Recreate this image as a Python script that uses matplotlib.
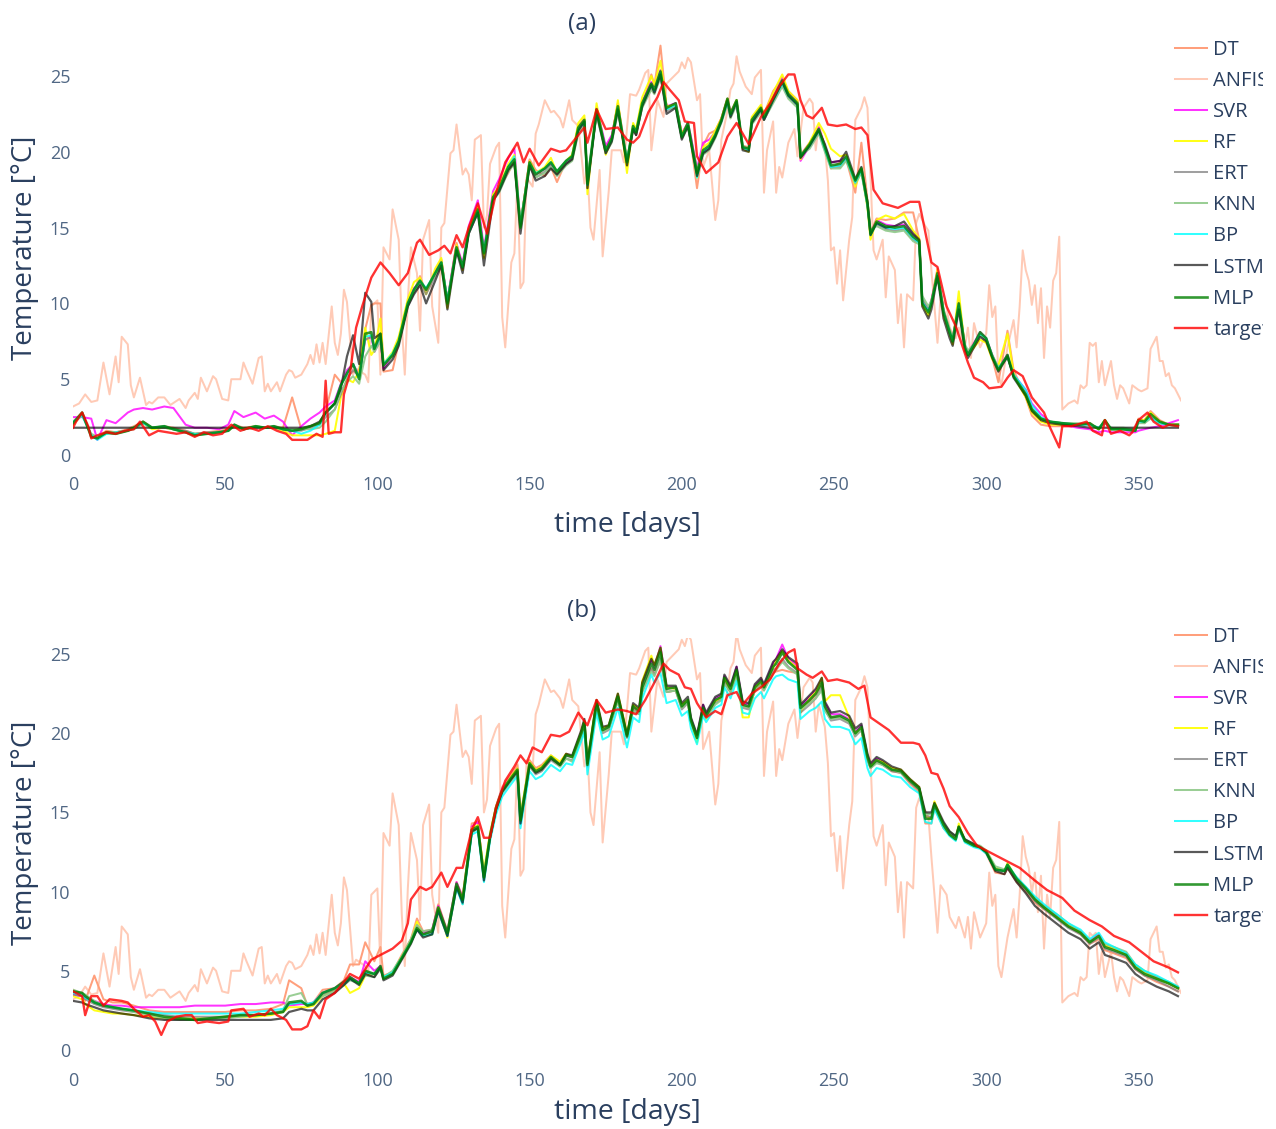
import matplotlib
matplotlib.use("Agg")
import matplotlib.pyplot as plt
from matplotlib.patches import Rectangle

plt.rcParams['font.family'] = ['Open Sans', 'DejaVu Sans']

W, H = 1276, 1129
labels = ["DT", "ANFIS", "SVR", "RF", "ERT", "KNN", "BP", "LSTM", "MLP", "target"]

# ---------- ANFIS (same run shown in both panels) ----------
anfis_days = [0, 2, 4, 6, 8, 10, 12, 14, 15, 16,
              18, 19, 20, 22, 24, 25, 26, 28, 30, 32,
              35, 37, 38, 40, 41, 42, 44, 46, 47, 49,
              51, 52, 55, 56, 57, 59, 61, 62, 63, 64,
              65, 67, 68, 70, 71, 72, 73, 75, 77, 78,
              79, 80, 81, 82, 83, 85, 86, 87, 88, 89,
              90, 92, 93, 96, 97, 98, 100, 101, 102, 103,
              104, 105, 107, 108, 109, 110, 111, 113, 114, 115,
              117, 118, 120, 121, 122, 124, 125, 126, 128, 129,
              130, 131, 132, 134, 135, 136, 137, 139, 140, 141,
              142, 144, 145, 146, 147, 148, 149, 151, 152, 153,
              155, 157, 158, 160, 161, 163, 164, 166, 168, 169,
              170, 171, 173, 174, 176, 177, 179, 180, 181, 183,
              185, 186, 188, 189, 190, 192, 194, 195, 197, 199,
              200, 201, 202, 203, 205, 206, 207, 209, 211, 212,
              213, 215, 216, 217, 218, 219, 221, 223, 224, 226,
              227, 228, 230, 231, 232, 233, 235, 237, 238, 240,
              242, 243, 244, 245, 247, 248, 249, 250, 251, 252,
              253, 255, 256, 257, 259, 260, 261, 262, 263, 264,
              266, 267, 268, 270, 271, 272, 273, 274, 276, 277,
              278, 280, 281, 282, 284, 285, 287, 288, 290, 291,
              293, 294, 295, 296, 298, 300, 301, 302, 303, 304,
              305, 307, 309, 310, 311, 312, 313, 314, 315, 316,
              317, 318, 319, 320, 321, 322, 323, 324, 325, 327,
              329, 330, 331, 332, 333, 334, 335, 336, 337, 338,
              339, 341, 342, 343, 344, 345, 347, 348, 350, 351,
              353, 354, 356, 357, 358, 359, 360, 361, 362, 364]
anfis = [3.2, 3.4, 4.0, 3.5, 3.6, 6.1, 4.0, 6.5, 4.8, 7.8,
         7.3, 4.6, 3.8, 5.1, 3.3, 3.5, 3.4, 3.8, 3.8, 3.3,
         3.7, 3.1, 3.6, 4.1, 3.7, 5.1, 4.2, 5.2, 5.0, 3.7,
         3.6, 5.0, 5.0, 6.1, 5.6, 4.7, 6.4, 6.5, 4.2, 4.7,
         4.2, 4.8, 4.2, 5.3, 5.6, 5.5, 5.1, 5.3, 6.0, 6.6,
         6.0, 7.3, 6.1, 7.4, 6.0, 9.8, 7.4, 6.6, 8.0, 10.9,
         10.1, 5.3, 5.7, 5.3, 4.8, 9.8, 10.2, 5.3, 13.7, 13.3,
         12.9, 16.2, 14.2, 8.6, 5.3, 10.2, 13.7, 12.0, 8.2, 14.2,
         15.5, 9.8, 7.4, 15.0, 15.3, 19.9, 20.1, 21.8, 18.5, 18.9,
         18.5, 16.8, 20.8, 21.1, 15.0, 15.8, 19.2, 20.3, 20.6, 9.1,
         7.1, 12.7, 13.3, 18.1, 11.0, 11.4, 18.3, 17.7, 21.2, 21.8,
         23.4, 22.6, 22.7, 22.2, 21.6, 23.4, 22.1, 21.7, 17.9, 18.8,
         15.0, 14.2, 18.8, 13.1, 17.4, 20.1, 20.1, 20.1, 19.3, 23.8,
         23.7, 24.1, 25.2, 25.4, 20.1, 23.4, 22.3, 24.5, 24.9, 25.3,
         25.9, 25.5, 26.2, 25.9, 23.4, 23.8, 19.0, 20.1, 15.5, 16.8,
         20.8, 22.7, 24.1, 24.5, 26.3, 25.3, 24.3, 23.8, 24.9, 25.4,
         17.3, 20.1, 22.0, 17.3, 19.0, 18.3, 20.6, 21.5, 19.7, 22.9,
         23.5, 23.2, 20.1, 21.8, 20.4, 18.1, 13.5, 13.7, 11.3, 13.5,
         10.2, 14.2, 15.7, 22.1, 22.9, 23.6, 22.9, 18.3, 13.5, 12.9,
         14.2, 10.4, 13.1, 12.2, 8.7, 10.6, 7.1, 10.6, 10.2, 15.3,
         15.9, 15.1, 14.8, 12.2, 7.4, 10.4, 9.8, 8.4, 7.7, 8.4,
         7.1, 8.4, 6.4, 8.7, 7.1, 8.0, 11.2, 9.1, 9.8, 5.3,
         4.6, 7.1, 8.9, 7.1, 9.8, 13.5, 12.2, 11.5, 9.9, 11.2,
         8.7, 11.0, 6.4, 9.8, 8.4, 11.5, 12.0, 14.4, 3.0, 3.4,
         3.6, 3.4, 4.6, 4.4, 4.6, 7.4, 7.2, 7.4, 4.8, 6.2,
         4.6, 6.2, 4.6, 3.7, 4.6, 4.4, 3.4, 4.6, 4.3, 4.2,
         4.4, 7.0, 7.8, 6.2, 6.2, 5.2, 5.4, 4.6, 4.4, 3.6]

# ---------- panel (a) ----------
target_a_days = [0, 1, 3, 5, 6, 8, 11, 14, 17, 20,
                 22, 25, 28, 31, 34, 37, 40, 43, 46, 49,
                 52, 55, 58, 61, 64, 67, 70, 72, 74, 77,
                 80, 82, 83, 84, 86, 88, 89, 91, 93, 95,
                 98, 101, 104, 107, 110, 113, 114, 117, 120, 122,
                 124, 126, 128, 130, 133, 136, 139, 142, 146, 148,
                 150, 153, 157, 160, 162, 164, 168, 169, 172, 175,
                 179, 182, 184, 186, 189, 192, 194, 196, 199, 201,
                 204, 205, 208, 212, 215, 218, 222, 226, 229, 232,
                 235, 237, 239, 241, 243, 246, 248, 251, 254, 257,
                 259, 261, 263, 266, 271, 275, 278, 282, 284, 287,
                 290, 294, 296, 299, 301, 305, 307, 309, 312, 315,
                 319, 321, 324, 325, 328, 333, 335, 338, 339, 341,
                 344, 347, 348, 350, 353, 355, 358, 360, 363]
target_a = [1.8, 2.2, 2.8, 1.9, 1.1, 1.3, 1.5, 1.4, 1.6, 1.7,
            2.2, 1.3, 1.6, 1.5, 1.4, 1.5, 1.2, 1.5, 1.3, 1.4,
            2.0, 1.6, 1.8, 1.6, 1.9, 1.6, 1.4, 1.0, 1.0, 1.0,
            1.4, 1.2, 4.9, 1.4, 1.5, 1.5, 4.0, 5.4, 8.4, 9.8,
            11.7, 12.7, 12.0, 11.2, 12.0, 14.0, 14.2, 13.2, 13.5, 13.8,
            13.3, 14.5, 13.7, 15.0, 16.6, 14.6, 17.3, 19.3, 20.6, 19.3,
            20.2, 19.1, 20.2, 20.0, 20.1, 20.6, 21.6, 20.6, 22.8, 21.5,
            21.6, 20.8, 20.6, 21.0, 22.6, 23.6, 24.6, 24.1, 23.4, 22.0,
            21.9, 19.7, 18.6, 19.3, 21.0, 21.9, 20.5, 22.3, 23.2, 24.3,
            25.1, 25.1, 23.4, 22.4, 22.2, 22.9, 21.8, 21.7, 21.8, 21.5,
            21.6, 21.1, 17.5, 16.6, 16.3, 16.7, 16.7, 12.7, 12.4, 9.8,
            8.5, 6.1, 5.1, 4.8, 4.4, 4.5, 5.1, 5.6, 5.2, 3.8,
            2.8, 1.8, 0.5, 1.9, 1.9, 2.2, 1.6, 1.3, 2.3, 1.4,
            1.6, 1.3, 1.5, 2.3, 2.8, 2.2, 1.8, 2.0, 1.9]

days_a = [0, 3, 6, 8, 11, 14, 18, 20, 23, 26,
          30, 33, 37, 40, 44, 48, 51, 53, 56, 60,
          63, 66, 69, 72, 75, 78, 81, 83, 86, 88,
          90, 92, 94, 96, 98, 99, 101, 102, 105, 107,
          110, 112, 114, 116, 119, 121, 123, 126, 128, 130,
          133, 135, 138, 140, 143, 145, 147, 150, 152, 155,
          157, 159, 162, 164, 166, 168, 169, 172, 175, 177,
          179, 182, 184, 185, 187, 190, 191, 193, 195, 198,
          200, 202, 203, 205, 207, 209, 211, 213, 215, 216,
          218, 220, 222, 223, 226, 227, 230, 233, 235, 238,
          239, 242, 245, 247, 249, 252, 254, 257, 259, 261,
          262, 264, 267, 270, 273, 276, 278, 279, 281, 282,
          284, 286, 288, 289, 291, 293, 294, 296, 298, 300,
          302, 304, 307, 309, 311, 313, 315, 318, 321, 325,
          330, 334, 337, 339, 341, 345, 349, 350, 352, 354,
          357, 360, 363]

dt_a = [2.2, 2.8, 1.3, 1.2, 1.6, 1.5, 1.7, 1.9, 2.2, 1.8,
        1.9, 1.8, 1.6, 1.4, 1.5, 1.6, 1.7, 2.0, 1.8, 1.9,
        1.8, 1.9, 1.8, 3.8, 1.7, 1.9, 2.1, 2.9, 5.3, 4.8,
        5.2, 5.5, 5.6, 8.3, 9.9, 10.0, 10.0, 5.5, 5.6, 7.4,
        10.1, 10.8, 11.8, 10.7, 12.1, 12.9, 10.2, 14.0, 12.2, 14.9,
        16.4, 13.1, 17.2, 17.6, 18.6, 19.4, 15.1, 19.5, 18.8, 18.4,
        19.0, 18.0, 19.4, 19.8, 21.7, 22.2, 17.8, 22.6, 20.2, 21.0,
        23.2, 19.5, 21.6, 21.1, 23.0, 25.1, 24.4, 27.0, 22.9, 23.2,
        21.2, 21.9, 20.6, 17.6, 20.4, 21.2, 21.4, 22.2, 23.5, 22.6,
        23.4, 20.4, 20.3, 22.2, 23.0, 22.5, 24.0, 24.8, 24.0, 23.4,
        19.8, 20.6, 21.6, 20.2, 18.9, 19.3, 19.5, 17.3, 20.6, 16.8,
        14.7, 15.6, 15.5, 15.6, 16.0, 16.0, 14.2, 10.2, 9.6, 10.2,
        12.3, 9.6, 8.3, 7.6, 10.2, 7.2, 6.6, 7.3, 8.0, 7.6,
        6.4, 4.8, 8.2, 5.6, 4.7, 3.8, 2.6, 2.0, 1.9, 1.9,
        2.0, 2.1, 1.7, 2.3, 1.7, 1.7, 1.6, 2.4, 2.3, 2.9,
        2.3, 2.0, 2.0]
svr_a = [2.5, 2.5, 2.4, 1.0, 2.3, 2.1, 2.8, 3.0, 3.1, 3.0,
         3.2, 3.1, 2.0, 1.8, 1.8, 1.7, 2.0, 2.9, 2.5, 2.8,
         2.4, 2.6, 2.2, 1.3, 1.9, 2.4, 2.8, 3.2, 3.6, 4.7,
         5.6, 6.0, 5.2, 7.6, 7.8, 6.8, 7.6, 5.7, 6.6, 7.6,
         10.1, 11.0, 11.4, 10.8, 12.1, 12.8, 10.2, 13.9, 12.6, 15.1,
         16.8, 13.6, 17.4, 18.2, 19.6, 20.2, 15.2, 19.4, 18.5, 18.9,
         19.2, 18.7, 19.3, 19.6, 21.5, 22.0, 17.6, 22.9, 20.4, 21.1,
         23.1, 19.1, 21.6, 21.2, 23.3, 24.6, 24.3, 25.4, 23.0, 23.2,
         21.2, 21.9, 21.0, 18.9, 20.6, 20.8, 21.3, 22.2, 23.5, 22.6,
         23.3, 20.3, 20.2, 22.1, 23.0, 22.4, 23.7, 24.9, 23.9, 23.3,
         19.4, 20.4, 21.6, 20.4, 19.3, 19.4, 19.7, 18.0, 18.8, 16.5,
         14.5, 15.5, 15.2, 15.1, 15.2, 14.5, 14.2, 10.1, 9.6, 10.2,
         12.1, 9.5, 8.1, 7.6, 10.0, 7.2, 6.7, 7.4, 8.1, 7.7,
         6.6, 5.7, 6.6, 5.3, 4.8, 4.3, 3.4, 2.7, 2.2, 2.0,
         1.8, 1.7, 1.5, 1.6, 1.5, 1.5, 1.5, 1.6, 1.7, 1.8,
         1.9, 2.1, 2.3]
rf_a = [2.0, 2.7, 1.3, 1.2, 1.5, 1.5, 1.6, 1.8, 2.1, 1.7,
        1.8, 1.7, 1.5, 1.4, 1.4, 1.5, 1.6, 1.9, 1.7, 1.9,
        1.8, 1.8, 1.6, 1.3, 1.3, 1.3, 1.3, 1.4, 1.6, 3.8,
        5.0, 4.8, 5.5, 8.4, 6.6, 6.9, 9.0, 6.0, 6.8, 7.8,
        10.3, 11.4, 11.7, 10.6, 12.3, 13.0, 9.7, 13.9, 12.2, 14.9,
        16.4, 13.0, 17.2, 17.7, 19.2, 19.8, 15.2, 19.4, 18.6, 19.0,
        19.6, 18.6, 19.4, 19.8, 21.9, 22.4, 17.2, 23.2, 19.8, 20.8,
        23.4, 18.6, 21.9, 21.5, 23.6, 25.0, 24.4, 26.0, 23.0, 23.1,
        21.2, 21.8, 20.6, 18.3, 20.3, 20.6, 21.4, 22.2, 23.5, 22.5,
        23.4, 20.2, 20.0, 22.3, 23.1, 22.4, 23.9, 25.1, 24.0, 23.4,
        19.5, 20.6, 21.9, 21.2, 20.2, 19.7, 19.8, 17.7, 18.8, 16.3,
        14.2, 15.5, 15.8, 15.6, 15.9, 14.8, 14.3, 9.9, 9.2, 10.0,
        12.2, 9.2, 8.0, 7.3, 10.8, 7.0, 6.6, 7.1, 7.6, 7.4,
        6.3, 5.9, 8.0, 5.4, 4.5, 3.8, 2.8, 2.2, 2.0, 2.0,
        2.0, 2.0, 1.7, 2.3, 1.7, 1.7, 1.6, 2.3, 2.3, 2.8,
        2.2, 2.0, 2.0]
ert_a = [2.0, 2.7, 1.3, 1.2, 1.5, 1.5, 1.6, 1.8, 2.1, 1.8,
         1.8, 1.7, 1.6, 1.4, 1.5, 1.5, 1.6, 1.9, 1.7, 1.8,
         1.8, 1.8, 1.7, 1.6, 1.6, 1.8, 2.0, 2.5, 3.0, 4.0,
         5.0, 5.6, 5.2, 7.6, 7.8, 7.0, 7.8, 6.0, 6.6, 7.4,
         9.8, 10.7, 11.3, 10.6, 11.8, 12.5, 10.1, 13.5, 12.3, 14.6,
         16.0, 13.4, 16.8, 17.4, 18.8, 19.3, 15.2, 19.1, 18.3, 18.7,
         19.1, 18.5, 19.2, 19.5, 21.3, 21.9, 18.1, 22.5, 20.0, 20.7,
         22.7, 19.4, 21.5, 21.1, 23.0, 24.2, 23.9, 25.0, 22.7, 23.0,
         20.9, 21.7, 20.6, 18.7, 19.9, 20.2, 21.0, 22.0, 23.3, 22.3,
         23.2, 20.2, 20.1, 21.9, 22.7, 22.1, 23.3, 24.4, 23.6, 23.0,
         19.6, 20.3, 21.3, 20.1, 19.0, 19.0, 19.5, 18.0, 18.7, 16.5,
         14.7, 15.2, 14.9, 14.8, 14.9, 14.2, 14.0, 10.3, 9.6, 10.1,
         11.8, 9.5, 8.2, 7.7, 9.8, 7.2, 6.8, 7.3, 8.0, 7.6,
         6.5, 5.7, 6.5, 5.2, 4.6, 4.0, 3.0, 2.4, 2.2, 2.1,
         2.0, 2.0, 1.8, 2.2, 1.8, 1.7, 1.7, 2.2, 2.1, 2.5,
         2.1, 2.0, 1.9]
knn_a = [2.1, 2.6, 1.4, 1.2, 1.4, 1.4, 1.6, 1.7, 2.1, 1.8,
         1.8, 1.7, 1.5, 1.3, 1.4, 1.5, 1.6, 1.9, 1.7, 1.8,
         1.8, 1.8, 1.7, 1.7, 1.7, 1.7, 1.8, 2.2, 3.0, 4.2,
         4.8, 5.2, 4.7, 6.5, 7.2, 6.8, 7.5, 6.0, 6.5, 7.3,
         9.9, 10.8, 11.4, 11.0, 11.9, 12.6, 10.3, 13.4, 12.5, 14.6,
         16.0, 13.5, 16.8, 17.3, 18.7, 19.2, 15.4, 19.0, 18.3, 18.6,
         19.0, 18.4, 19.1, 19.4, 21.2, 21.8, 18.3, 22.4, 19.9, 20.6,
         22.6, 19.5, 21.4, 21.2, 22.9, 24.1, 23.8, 24.9, 22.8, 22.9,
         20.9, 21.6, 20.7, 18.9, 19.8, 20.1, 20.9, 21.9, 23.1, 22.2,
         23.1, 20.4, 20.2, 21.8, 22.6, 22.1, 23.2, 24.3, 23.5, 22.9,
         19.8, 20.2, 21.2, 20.0, 18.9, 18.9, 19.4, 17.9, 18.6, 16.4,
         14.8, 15.1, 14.8, 14.7, 14.8, 14.1, 13.9, 10.5, 9.8, 10.2,
         11.7, 9.6, 8.3, 7.8, 9.6, 7.3, 6.9, 7.3, 7.9, 7.6,
         6.6, 5.8, 6.4, 5.3, 4.7, 4.1, 3.1, 2.4, 2.2, 2.1,
         2.1, 2.0, 1.8, 2.1, 1.8, 1.8, 1.7, 2.1, 2.1, 2.4,
         2.1, 2.0, 1.9]
bp_a = [2.2, 2.6, 1.3, 1.0, 1.4, 1.5, 1.6, 1.8, 2.1, 1.8,
        1.9, 1.7, 1.5, 1.4, 1.4, 1.5, 1.6, 2.0, 1.7, 1.9,
        1.8, 1.9, 1.7, 1.6, 1.4, 1.6, 2.0, 2.7, 3.4, 4.6,
        5.3, 6.0, 5.1, 7.8, 7.9, 7.0, 7.8, 6.0, 6.7, 7.5,
        10.0, 10.9, 11.5, 11.0, 12.0, 12.7, 10.2, 13.6, 12.4, 14.7,
        16.1, 13.4, 16.9, 17.5, 19.0, 19.7, 15.1, 19.2, 18.6, 18.9,
        19.3, 18.7, 19.4, 19.7, 21.5, 22.0, 17.8, 22.7, 20.1, 20.8,
        22.9, 19.4, 21.6, 21.3, 23.1, 24.4, 24.0, 25.2, 22.8, 23.1,
        21.0, 21.8, 20.7, 18.3, 20.0, 20.3, 21.1, 22.0, 23.3, 22.4,
        23.3, 20.3, 20.1, 22.0, 22.8, 22.2, 23.4, 24.5, 23.7, 23.1,
        19.7, 20.4, 21.4, 20.2, 19.0, 19.1, 19.6, 18.0, 18.8, 16.5,
        14.5, 15.3, 15.0, 14.9, 15.0, 14.3, 14.0, 10.1, 9.5, 10.0,
        11.9, 9.4, 8.1, 7.5, 9.9, 7.1, 6.6, 7.3, 8.0, 7.7,
        6.5, 5.7, 6.5, 5.3, 4.8, 4.3, 3.3, 2.5, 2.2, 2.1,
        2.0, 2.0, 1.8, 2.2, 1.7, 1.7, 1.6, 2.2, 2.2, 2.5,
        2.1, 2.0, 1.9]
lstm_a = [1.8, 1.8, 1.8, 1.8, 1.8, 1.8, 1.8, 1.8, 1.8, 1.8,
          1.8, 1.8, 1.8, 1.8, 1.8, 1.8, 1.8, 1.8, 1.8, 1.8,
          1.8, 1.8, 1.8, 1.8, 1.8, 1.9, 2.2, 2.8, 3.4, 4.4,
          6.5, 7.9, 6.0, 10.7, 10.1, 7.7, 8.0, 5.6, 6.3, 7.2,
          9.8, 10.6, 11.2, 10.0, 11.5, 12.5, 9.6, 13.5, 12.0, 14.6,
          16.0, 12.5, 16.8, 17.4, 18.8, 19.3, 14.6, 19.1, 18.1, 18.4,
          18.9, 18.5, 19.2, 19.5, 21.4, 22.0, 17.6, 22.6, 19.9, 20.7,
          22.8, 19.1, 21.5, 21.1, 23.0, 24.4, 23.9, 25.1, 22.5, 22.9,
          20.8, 21.7, 20.6, 18.4, 19.9, 20.2, 21.0, 22.0, 23.4, 22.3,
          23.3, 20.1, 20.0, 21.9, 22.8, 22.1, 23.4, 24.6, 23.7, 23.1,
          19.6, 20.4, 21.4, 20.5, 19.3, 19.4, 20.0, 18.2, 19.0, 16.7,
          14.5, 15.3, 15.0, 15.1, 15.4, 14.6, 14.2, 9.8, 9.0, 9.6,
          11.8, 9.0, 7.7, 7.2, 9.6, 6.9, 6.4, 7.1, 7.8, 7.5,
          6.4, 5.5, 6.5, 5.1, 4.5, 3.9, 2.9, 2.3, 2.1, 2.0,
          1.9, 1.8, 1.8, 1.8, 1.8, 1.8, 1.8, 1.8, 1.8, 1.8,
          1.8, 1.8, 1.8]
mlp_a = [2.1, 2.8, 1.2, 1.1, 1.5, 1.4, 1.6, 1.8, 2.2, 1.8,
         1.9, 1.7, 1.5, 1.3, 1.4, 1.5, 1.6, 2.0, 1.7, 1.9,
         1.8, 1.9, 1.7, 1.6, 1.7, 1.9, 2.1, 2.8, 3.4, 4.6,
         5.4, 6.0, 5.0, 8.0, 8.1, 7.0, 8.0, 5.9, 6.6, 7.5,
         10.0, 10.9, 11.5, 10.9, 12.0, 12.7, 10.0, 13.7, 12.4, 14.8,
         16.2, 13.3, 17.0, 17.6, 19.0, 19.5, 15.0, 19.3, 18.5, 18.9,
         19.3, 18.7, 19.4, 19.7, 21.6, 22.1, 17.9, 22.8, 20.1, 20.9,
         23.0, 19.3, 21.7, 21.3, 23.2, 24.5, 24.1, 25.3, 22.9, 23.2,
         21.0, 21.9, 20.8, 18.6, 20.1, 20.4, 21.1, 22.1, 23.5, 22.5,
         23.4, 20.3, 20.2, 22.1, 22.9, 22.3, 23.5, 24.7, 23.8, 23.2,
         19.7, 20.5, 21.5, 20.3, 19.1, 19.2, 19.7, 18.1, 18.9, 16.6,
         14.6, 15.4, 15.1, 15.0, 15.1, 14.4, 14.1, 10.0, 9.4, 10.0,
         12.0, 9.4, 8.1, 7.5, 10.0, 7.1, 6.6, 7.3, 8.1, 7.7,
         6.5, 5.6, 6.6, 5.2, 4.6, 4.0, 3.0, 2.4, 2.2, 2.1,
         2.0, 2.1, 1.7, 2.3, 1.7, 1.7, 1.6, 2.3, 2.2, 2.7,
         2.2, 2.0, 2.0]

# ---------- panel (b) ----------
target_b_days = [0, 3, 4, 6, 8, 10, 12, 16, 18, 20,
                 23, 25, 27, 29, 31, 34, 37, 39, 41, 44,
                 48, 51, 52, 56, 58, 61, 63, 65, 67, 70,
                 72, 75, 77, 79, 81, 83, 86, 89, 91, 94,
                 98, 102, 105, 108, 110, 111, 114, 116, 118, 121,
                 123, 126, 128, 131, 133, 135, 137, 139, 142, 145,
                 147, 149, 151, 154, 157, 160, 163, 166, 169, 172,
                 175, 179, 182, 185, 188, 191, 194, 196, 199, 201,
                 203, 205, 208, 211, 213, 215, 218, 220, 223, 226,
                 229, 232, 235, 237, 238, 241, 243, 246, 248, 251,
                 255, 258, 260, 262, 265, 268, 272, 276, 278, 280,
                 282, 284, 286, 288, 291, 294, 297, 301, 304, 307,
                 311, 316, 320, 325, 329, 334, 338, 342, 347, 351,
                 355, 360, 363]
target_b = [3.7, 3.4, 2.2, 3.4, 3.4, 2.8, 3.2, 3.1, 3.0, 2.6,
            2.1, 2.2, 1.8, 0.95, 1.8, 2.1, 2.2, 2.2, 1.7, 1.8,
            1.7, 1.8, 2.5, 2.6, 2.1, 2.3, 2.2, 2.6, 2.2, 1.9,
            1.3, 1.3, 1.5, 2.5, 2.0, 3.2, 3.6, 4.3, 4.8, 4.5,
            5.7, 6.1, 6.4, 6.9, 8.0, 9.5, 10.3, 10.1, 10.3, 11.2,
            10.3, 11.5, 11.5, 13.9, 14.7, 13.4, 13.4, 15.3, 17.0, 17.9,
            18.6, 18.1, 19.1, 18.8, 19.9, 19.8, 20.1, 21.3, 20.5, 22.1,
            21.3, 21.5, 21.4, 21.2, 22.1, 23.2, 24.4, 24.0, 23.7, 22.9,
            22.8, 21.9, 21.0, 21.4, 21.2, 22.4, 22.6, 21.8, 22.5, 22.9,
            23.4, 24.4, 25.1, 25.3, 24.1, 23.7, 23.5, 23.9, 23.3, 23.4,
            23.2, 22.8, 23.0, 21.0, 20.6, 20.2, 19.4, 19.4, 19.3, 18.6,
            17.5, 17.4, 16.5, 15.4, 14.7, 13.7, 12.9, 12.5, 12.2, 11.9,
            11.5, 10.7, 10.1, 9.6, 8.8, 8.2, 7.8, 7.2, 6.8, 6.2,
            5.6, 5.2, 4.9]

days_b = [0, 3, 4, 7, 10, 13, 16, 20, 25, 30,
          35, 40, 45, 50, 55, 60, 65, 69, 71, 75,
          77, 79, 82, 86, 89, 91, 94, 96, 99, 101,
          102, 105, 108, 111, 113, 115, 118, 120, 123, 126,
          128, 130, 131, 133, 135, 137, 139, 141, 144, 146,
          147, 150, 152, 154, 157, 160, 162, 164, 167, 168,
          169, 172, 174, 176, 179, 182, 184, 186, 187, 190,
          191, 193, 195, 198, 200, 202, 203, 205, 207, 208,
          211, 213, 214, 216, 218, 220, 222, 224, 226, 227,
          230, 231, 233, 235, 238, 239, 242, 244, 246, 247,
          249, 252, 255, 257, 259, 261, 262, 264, 266, 269,
          272, 275, 278, 280, 282, 283, 286, 288, 290, 291,
          293, 296, 298, 300, 303, 306, 307, 310, 313, 316,
          319, 323, 327, 331, 334, 337, 339, 342, 346, 349,
          352, 356, 360, 363]

dt_b = [3.8, 3.5, 3.1, 4.7, 3.2, 3.0, 3.0, 2.8, 2.5, 2.4,
        2.4, 2.4, 2.4, 2.4, 2.5, 2.5, 2.6, 2.9, 4.4, 3.9,
        2.8, 3.0, 3.8, 3.9, 4.4, 5.4, 5.4, 6.8, 5.6, 6.5,
        4.7, 4.9, 6.0, 7.0, 8.3, 7.5, 7.6, 9.2, 7.5, 10.6,
        9.7, 12.6, 14.3, 14.4, 11.0, 13.6, 15.4, 16.6, 17.4, 18.0,
        14.7, 18.3, 17.8, 18.0, 18.6, 18.1, 18.7, 18.5, 20.0, 20.6,
        18.0, 21.8, 20.1, 20.3, 22.2, 19.9, 21.6, 21.3, 22.6, 24.1,
        23.7, 24.6, 22.6, 22.7, 21.6, 22.0, 20.8, 19.8, 21.5, 21.1,
        22.0, 22.2, 23.3, 22.6, 23.7, 21.7, 21.6, 22.7, 23.1, 22.8,
        23.8, 23.9, 24.0, 23.9, 23.8, 21.6, 22.0, 22.4, 23.1, 21.7,
        21.0, 21.0, 20.7, 19.9, 20.2, 18.3, 17.8, 18.2, 18.0, 17.6,
        17.5, 16.8, 16.3, 14.3, 14.3, 15.3, 14.0, 13.6, 13.3, 13.9,
        13.2, 12.9, 12.8, 12.4, 11.2, 11.1, 11.5, 10.6, 10.0, 9.3,
        8.9, 8.4, 7.8, 7.3, 6.7, 7.0, 6.3, 6.1, 5.8, 5.1,
        4.7, 4.3, 4.0, 3.7]
svr_b = [3.5, 3.4, 3.3, 3.1, 2.9, 2.8, 2.8, 2.7, 2.7, 2.7,
         2.7, 2.8, 2.8, 2.8, 2.9, 2.9, 3.0, 3.0, 2.8, 2.9,
         2.9, 3.0, 3.6, 3.9, 4.3, 4.6, 4.3, 5.6, 5.0, 5.3,
         4.6, 4.8, 5.8, 6.9, 7.9, 7.4, 7.6, 9.1, 7.4, 10.6,
         9.6, 12.5, 14.1, 14.4, 10.9, 13.6, 15.4, 16.5, 17.3, 17.8,
         14.4, 18.2, 17.7, 17.9, 18.5, 18.0, 18.6, 18.5, 20.1, 20.8,
         17.9, 22.0, 20.3, 20.4, 22.4, 19.8, 21.7, 21.5, 23.1, 24.6,
         24.1, 25.5, 22.9, 22.9, 21.8, 22.1, 20.9, 19.8, 21.8, 21.2,
         22.2, 22.4, 23.6, 22.9, 24.2, 21.9, 21.8, 23.0, 23.4, 23.0,
         24.4, 24.7, 25.6, 24.7, 24.2, 21.7, 22.3, 22.7, 23.4, 21.9,
         21.2, 21.2, 20.9, 20.1, 20.5, 18.6, 18.0, 18.4, 18.2, 17.8,
         17.6, 17.0, 16.5, 14.7, 14.7, 15.5, 14.3, 13.6, 13.3, 14.0,
         13.2, 12.9, 12.8, 12.5, 11.4, 11.3, 11.6, 10.8, 10.2, 9.6,
         9.1, 8.5, 7.9, 7.5, 6.9, 7.3, 6.6, 6.4, 6.0, 5.3,
         4.9, 4.6, 4.2, 3.9]
rf_b = [3.4, 3.2, 2.9, 2.5, 2.4, 2.3, 2.3, 2.2, 2.1, 2.0,
        2.0, 2.0, 2.0, 2.1, 2.1, 2.1, 2.2, 2.4, 2.7, 2.7,
        2.7, 2.8, 3.4, 3.8, 4.2, 3.6, 3.9, 4.7, 4.8, 5.2,
        4.6, 4.9, 5.9, 6.9, 8.1, 7.2, 7.3, 9.0, 7.1, 10.3,
        9.6, 12.5, 14.0, 14.2, 11.3, 13.7, 15.4, 16.4, 17.3, 17.8,
        14.8, 18.2, 17.7, 17.9, 18.6, 18.2, 18.7, 18.5, 20.1, 20.8,
        18.3, 22.1, 20.3, 20.5, 22.5, 20.0, 21.8, 21.5, 23.3, 24.9,
        24.3, 25.4, 22.9, 22.8, 21.8, 22.1, 20.7, 19.4, 21.5, 20.9,
        22.0, 22.3, 23.5, 22.7, 23.9, 21.0, 21.0, 22.9, 23.2, 22.8,
        24.1, 24.6, 25.2, 24.6, 24.1, 21.3, 22.2, 22.6, 23.5, 22.0,
        22.4, 22.4, 21.0, 20.0, 20.3, 18.4, 17.9, 18.3, 18.2, 17.8,
        17.7, 17.1, 16.6, 14.8, 14.6, 15.7, 14.2, 13.6, 13.3, 14.3,
        13.2, 12.9, 12.8, 12.6, 11.5, 11.3, 11.8, 10.8, 10.2, 9.6,
        9.0, 8.4, 7.9, 7.4, 6.8, 7.2, 6.6, 6.4, 6.0, 5.3,
        4.9, 4.5, 4.2, 3.9]
ert_b = [3.5, 3.4, 3.2, 2.9, 2.7, 2.6, 2.5, 2.4, 2.3, 2.2,
         2.1, 2.1, 2.1, 2.1, 2.2, 2.2, 2.3, 2.4, 2.9, 3.0,
         2.8, 2.9, 3.5, 3.8, 4.2, 4.5, 4.2, 4.9, 4.8, 5.2,
         4.5, 4.8, 5.8, 6.8, 7.6, 7.3, 7.4, 8.9, 7.3, 10.4,
         9.4, 12.3, 13.8, 14.0, 10.9, 13.4, 15.2, 16.3, 17.1, 17.5,
         14.5, 17.9, 17.4, 17.6, 18.3, 17.9, 18.4, 18.3, 19.8, 20.5,
         17.9, 21.7, 20.0, 20.2, 22.1, 19.7, 21.5, 21.2, 22.7, 24.1,
         23.7, 24.7, 22.6, 22.7, 21.5, 21.9, 20.7, 19.7, 21.5, 21.0,
         21.9, 22.1, 23.2, 22.6, 23.7, 21.6, 21.5, 22.7, 23.1, 22.7,
         24.0, 24.1, 24.7, 24.2, 23.8, 21.3, 21.8, 22.2, 22.9, 21.5,
         20.8, 20.9, 20.6, 19.8, 20.2, 18.3, 17.8, 18.2, 18.0, 17.6,
         17.5, 16.9, 16.4, 14.8, 14.7, 15.4, 14.2, 13.7, 13.4, 14.0,
         13.2, 12.9, 12.8, 12.5, 11.4, 11.3, 11.6, 10.7, 10.1, 9.4,
         8.9, 8.3, 7.7, 7.3, 6.7, 7.1, 6.4, 6.2, 5.9, 5.1,
         4.7, 4.4, 4.0, 3.7]
knn_b = [3.8, 3.6, 3.5, 3.1, 2.8, 2.7, 2.6, 2.4, 2.2, 2.0,
         1.9, 1.9, 2.0, 2.0, 2.1, 2.2, 2.3, 2.5, 3.4, 3.6,
         2.9, 3.0, 3.4, 3.7, 4.1, 4.4, 4.2, 4.7, 4.6, 5.1,
         4.6, 5.0, 5.9, 7.0, 7.9, 7.5, 7.6, 8.7, 7.2, 10.3,
         9.2, 12.2, 13.7, 14.0, 11.1, 13.4, 15.1, 16.2, 17.0, 17.4,
         14.7, 17.9, 17.5, 17.7, 18.4, 17.9, 18.4, 18.2, 19.7, 20.3,
         18.2, 21.6, 20.1, 20.3, 22.0, 19.9, 21.4, 21.2, 22.6, 23.9,
         23.6, 24.6, 22.6, 22.7, 21.6, 22.0, 20.9, 19.9, 21.4, 21.0,
         21.8, 22.1, 23.1, 22.6, 23.6, 21.7, 21.6, 22.7, 23.0, 22.7,
         23.8, 24.0, 24.5, 24.1, 23.7, 21.5, 21.9, 22.2, 22.7, 21.4,
         20.9, 21.0, 20.7, 19.9, 20.2, 18.4, 17.8, 18.1, 18.0, 17.7,
         17.5, 17.0, 16.5, 14.9, 14.9, 15.3, 14.3, 13.8, 13.5, 13.9,
         13.3, 13.0, 12.9, 12.6, 11.6, 11.4, 11.5, 10.9, 10.3, 9.6,
         9.1, 8.6, 8.0, 7.5, 6.9, 7.1, 6.7, 6.5, 6.2, 5.4,
         5.0, 4.6, 4.3, 4.0]
bp_b = [3.6, 3.5, 3.3, 3.0, 2.8, 2.7, 2.6, 2.5, 2.4, 2.3,
        2.3, 2.3, 2.3, 2.3, 2.3, 2.4, 2.5, 2.6, 2.9, 3.0,
        2.9, 3.0, 3.6, 3.9, 4.2, 4.5, 4.2, 4.9, 4.8, 5.2,
        4.6, 4.9, 5.8, 6.8, 7.6, 7.2, 7.3, 8.8, 7.2, 10.2,
        9.2, 12.1, 13.6, 13.8, 10.6, 13.2, 14.9, 16.0, 16.8, 17.3,
        14.0, 17.6, 17.1, 17.3, 18.0, 17.6, 18.1, 18.0, 19.5, 20.1,
        17.4, 21.3, 19.6, 19.8, 21.6, 19.1, 21.0, 20.7, 22.2, 23.7,
        23.2, 23.8, 21.9, 22.1, 21.1, 21.4, 20.3, 19.3, 21.1, 20.7,
        21.6, 21.8, 22.9, 22.2, 23.3, 21.3, 21.2, 22.2, 22.6, 22.2,
        23.4, 23.6, 23.7, 23.4, 23.2, 20.9, 21.4, 21.6, 22.0, 20.9,
        20.4, 20.4, 20.2, 19.3, 19.7, 17.8, 17.3, 17.8, 17.7, 17.3,
        17.2, 16.6, 16.2, 14.4, 14.3, 15.2, 14.0, 13.5, 13.2, 14.0,
        13.1, 12.8, 12.7, 12.4, 11.4, 11.3, 11.7, 10.9, 10.3, 9.7,
        9.2, 8.6, 8.0, 7.6, 7.0, 7.4, 6.8, 6.5, 6.1, 5.4,
        5.0, 4.7, 4.3, 4.0]
lstm_b = [3.1, 3.0, 2.9, 2.7, 2.5, 2.4, 2.3, 2.2, 2.0, 1.9,
          1.9, 1.9, 1.9, 1.9, 1.9, 1.9, 1.9, 2.0, 2.4, 2.6,
          2.5, 2.5, 3.2, 3.6, 4.1, 4.5, 4.1, 4.8, 4.6, 5.2,
          4.4, 4.7, 5.7, 6.7, 7.6, 7.1, 7.3, 8.8, 7.2, 10.3,
          9.3, 12.3, 13.8, 14.0, 10.7, 13.4, 15.2, 16.3, 17.1, 17.6,
          14.3, 18.0, 17.5, 17.7, 18.4, 18.0, 18.7, 18.6, 20.2, 20.9,
          18.1, 22.1, 20.4, 20.5, 22.5, 19.9, 21.9, 21.6, 23.2, 24.7,
          24.3, 25.4, 23.0, 23.0, 21.9, 22.3, 21.0, 19.9, 21.8, 21.3,
          22.3, 22.5, 23.7, 23.0, 24.2, 22.0, 21.9, 23.1, 23.5, 23.1,
          24.5, 24.7, 25.3, 24.8, 24.4, 21.8, 22.4, 22.8, 23.5, 22.0,
          21.3, 21.4, 21.1, 20.3, 20.6, 18.7, 18.1, 18.5, 18.3, 17.9,
          17.7, 17.1, 16.6, 15.0, 15.0, 15.6, 14.4, 13.8, 13.5, 14.1,
          13.3, 13.0, 12.8, 12.5, 11.3, 11.1, 11.5, 10.6, 9.9, 9.1,
          8.6, 8.0, 7.4, 7.0, 6.4, 6.8, 6.0, 5.8, 5.5, 4.8,
          4.4, 4.0, 3.7, 3.4]
mlp_b = [3.7, 3.6, 3.4, 3.0, 2.8, 2.7, 2.6, 2.5, 2.3, 2.1,
         2.0, 1.9, 2.0, 2.1, 2.2, 2.2, 2.3, 2.4, 3.0, 3.1,
         2.8, 2.9, 3.6, 3.9, 4.3, 4.6, 4.2, 5.0, 4.8, 5.3,
         4.5, 4.8, 5.8, 6.8, 7.7, 7.3, 7.5, 9.0, 7.4, 10.5,
         9.5, 12.4, 13.9, 14.1, 10.9, 13.5, 15.3, 16.4, 17.2, 17.7,
         14.5, 18.1, 17.6, 17.8, 18.5, 18.0, 18.6, 18.5, 20.0, 20.7,
         18.0, 21.9, 20.2, 20.4, 22.3, 19.8, 21.7, 21.4, 22.9, 24.4,
         24.0, 25.1, 22.8, 22.9, 21.7, 22.1, 20.8, 19.7, 21.6, 21.1,
         22.1, 22.3, 23.5, 22.8, 24.0, 21.8, 21.7, 22.9, 23.3, 22.9,
         24.2, 24.4, 25.1, 24.5, 24.0, 21.6, 22.1, 22.5, 23.2, 21.7,
         21.0, 21.1, 20.8, 20.0, 20.4, 18.5, 17.9, 18.3, 18.1, 17.7,
         17.6, 17.0, 16.5, 14.6, 14.6, 15.5, 14.2, 13.6, 13.3, 14.1,
         13.2, 12.9, 12.8, 12.5, 11.4, 11.3, 11.7, 10.8, 10.2, 9.5,
         9.0, 8.4, 7.8, 7.4, 6.8, 7.2, 6.5, 6.3, 6.0, 5.2,
         4.8, 4.5, 4.2, 3.9]

# line styles per trace: (color, alpha, width in pt)
styles = {
    "DT": ("#ff7f50", 0.75, 1.45),
    "ANFIS": ("#ffa07a", 0.55, 1.45),
    "SVR": ("#ff00ff", 0.8, 1.45),
    "RF": ("#ffff00", 0.9, 1.45),
    "ERT": ("#808080", 0.75, 1.45),
    "KNN": ("#8fc98a", 0.9, 1.45),
    "BP": ("#00ffff", 0.8, 1.45),
    "LSTM": ("#000000", 0.65, 1.6),
    "MLP": ("#008000", 0.8, 1.9),
    "target": ("#ff0000", 0.8, 1.7),
}

panels = [
    dict(title="(a)", title_y=24, top=41.1, bottom=462.6, ylim=(-0.5, 27.3), xlab_y=525, ylab_y=248,
         leg_top=40,
         series=[(days_a, dt_a), (anfis_days, anfis), (days_a, svr_a), (days_a, rf_a),
                 (days_a, ert_a), (days_a, knn_a), (days_a, bp_a), (days_a, lstm_a),
                 (days_a, mlp_a), (target_a_days, target_a)]),
    dict(title="(b)", title_y=611, top=638.2, bottom=1057.9, ylim=(-0.5, 26.0), xlab_y=1112, ylab_y=833,
         leg_top=627,
         series=[(days_b, dt_b), (anfis_days, anfis), (days_b, svr_b), (days_b, rf_b),
                 (days_b, ert_b), (days_b, knn_b), (days_b, bp_b), (days_b, lstm_b),
                 (days_b, mlp_b), (target_b_days, target_b)]),
]

fig = plt.figure(figsize=(W / 100, H / 100), dpi=100)
x0, x1 = 73, 1181
text_col = "#2a3f5f"
tick_col = "#506784"

for p in panels:
    ax = fig.add_axes([x0 / W, 1 - p["bottom"] / H, (x1 - x0) / W, (p["bottom"] - p["top"]) / H])
    handles = []
    for name, (xs, ys) in zip(labels, p["series"]):
        if len(xs) != len(ys):
            raise ValueError(f"{p['title']} {name}: {len(xs)} days vs {len(ys)} values")
        c, a, lw = styles[name]
        ln, = ax.plot(xs, ys, color=c, alpha=a, lw=lw, solid_joinstyle="round")
        handles.append(ln)
    ax.set_xlim(0, 364)
    ax.set_ylim(*p["ylim"])
    ax.set_xticks(range(0, 351, 50))
    ax.set_yticks(range(0, 26, 5))
    for s in ax.spines.values():
        s.set_visible(False)
    ax.tick_params(axis="x", length=0, pad=10, labelsize=13, labelcolor=tick_col)
    ax.tick_params(axis="y", length=0, pad=2, labelsize=13, labelcolor=tick_col)
    fig.text(627 / W, 1 - p["xlab_y"] / H, "time [days]", ha="center", va="center",
             fontsize=20.5, color=text_col)
    fig.text(25 / W, 1 - p["ylab_y"] / H, "Temperature [°C]", ha="center", va="center",
             rotation=90, fontsize=20, color=text_col)
    fig.text(582 / W, 1 - p["title_y"] / H, p["title"], ha="center", va="center",
             fontsize=17.5, color=text_col)
    ax.legend(handles, labels, loc="upper left", bbox_to_anchor=(1175 / W, 1 - p["leg_top"] / H),
              bbox_transform=fig.transFigure, frameon=False, fontsize=14.5, handlelength=1.6,
              handletextpad=0.3, labelspacing=0.55, borderpad=0, borderaxespad=0,
              labelcolor=text_col)

# the legend labels run off the right edge of the page
fig.patches.append(Rectangle((1263 / W, 0), 13 / W, 1, transform=fig.transFigure,
                             facecolor="white", edgecolor="none", zorder=20))

fig.savefig("out.png", dpi=100)
